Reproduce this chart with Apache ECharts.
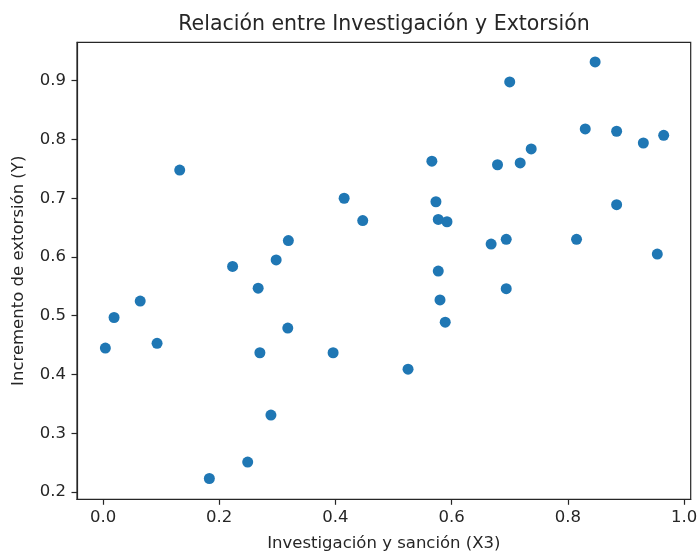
<!DOCTYPE html>
<html>
<head>
<meta charset="utf-8">
<script src="https://cdn.jsdelivr.net/npm/echarts@6/dist/echarts.min.js"></script>
<style>html,body{margin:0;padding:0;background:#fff}#c{width:698px;height:553px}</style>
</head>
<body>
<div id="c"></div>
<script>
const xValues = [0.004,0.019,0.064,0.093,0.132,0.183,0.223,0.249,0.267,0.270,0.289,0.298,0.318,0.319,0.396,0.415,0.447,0.525,0.566,0.573,0.577,0.577,0.580,0.589,0.592,0.668,0.679,0.694,0.694,0.700,0.718,0.737,0.815,0.830,0.847,0.884,0.884,0.930,0.954,0.965];
const yValues = [0.445,0.497,0.525,0.453,0.748,0.223,0.584,0.251,0.547,0.437,0.331,0.595,0.479,0.628,0.437,0.700,0.662,0.409,0.763,0.694,0.664,0.576,0.527,0.489,0.660,0.622,0.757,0.630,0.546,0.898,0.760,0.784,0.630,0.818,0.932,0.814,0.689,0.794,0.605,0.807];
const xTicks = [0.0,0.2,0.4,0.6,0.8,1.0];
const yTicks = [0.2,0.3,0.4,0.5,0.6,0.7,0.8,0.9];
const titleText = 'Relación entre Investigación y Extorsión';
const xName = 'Investigación y sanción (X3)';
const yName = 'Incremento de extorsión (Y)';

const points = xValues.map((x,i)=>[x,yValues[i]]);
const font = 'DejaVu Sans';
const txt = '#262626';
const chart = echarts.init(document.getElementById('c'), null, {renderer:'canvas'});
chart.setOption({
  animation:false,
  backgroundColor:'#fff',
  title:{text:titleText,left:384,textAlign:'center',top:14,padding:0,
    textStyle:{fontFamily:font,fontSize:20.5,fontWeight:'normal',color:txt}},
  grid:{left:77,top:42.3,right:7.3,bottom:53.7,containLabel:false,outerBoundsMode:'none',
    show:true,borderColor:'#262626',borderWidth:1.2,backgroundColor:'transparent'},
  xAxis:{type:'value',min:-0.0448,max:1.0115,
    name:xName,nameLocation:'middle',nameGap:36,
    nameTextStyle:{fontFamily:font,fontSize:16.5,color:txt},
    splitLine:{show:false},
    axisLine:{show:true,onZero:false,lineStyle:{color:'#262626',width:1.2}},
    axisTick:{show:true,length:5.5,lineStyle:{color:'#262626',width:1.2},customValues:xTicks},
    axisLabel:{fontFamily:font,fontSize:16.5,color:txt,margin:10,customValues:xTicks,formatter:v=>v.toFixed(1)}},
  yAxis:{type:'value',min:0.1876,max:0.9654,
    name:yName,nameLocation:'middle',nameGap:50,nameRotate:90,
    nameTextStyle:{fontFamily:font,fontSize:16.5,color:txt},
    splitLine:{show:false},
    axisLine:{show:true,onZero:false,lineStyle:{color:'#262626',width:1.2}},
    axisTick:{show:true,length:5.5,lineStyle:{color:'#262626',width:1.2},customValues:yTicks},
    axisLabel:{fontFamily:font,fontSize:16.5,color:txt,margin:11,customValues:yTicks,formatter:v=>v.toFixed(1)}},
  series:[{type:'scatter',data:points,symbolSize:11,itemStyle:{color:'#1f77b4',opacity:1}}]
});
</script>
</body>
</html>
